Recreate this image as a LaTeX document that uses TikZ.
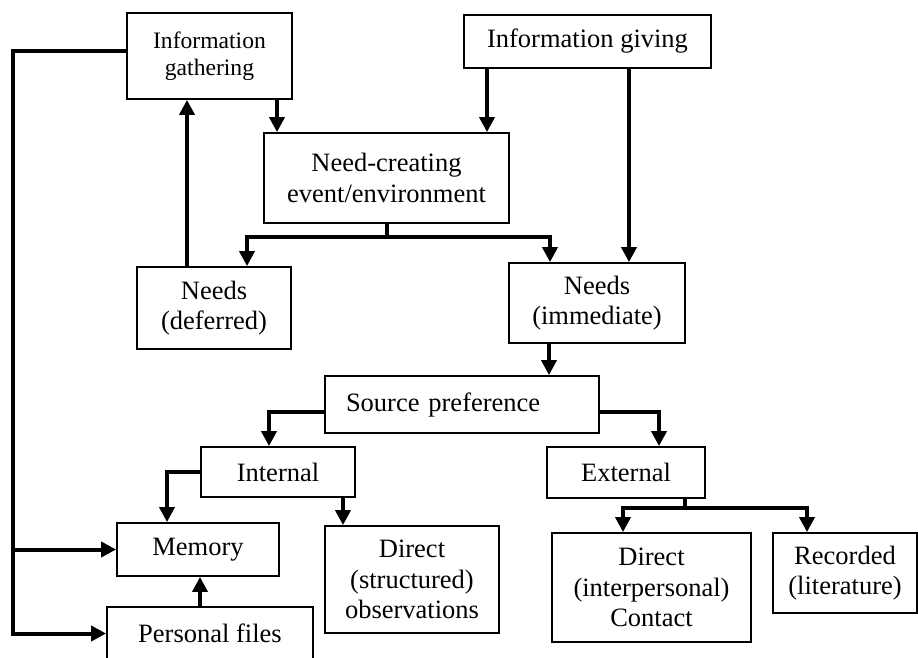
\documentclass[tikz,border=0pt]{standalone}
\usepackage{fontspec}
\setmainfont{Liberation Serif}
\usetikzlibrary{arrows.meta,calc}
\begin{document}
\begin{tikzpicture}[x=1pt,y=-1pt,
  box/.style={draw,line width=1.8pt,align=center,inner sep=2pt,font=\fontsize{26.5}{30.5}\selectfont},
  conn/.style={line width=4pt},
  arr/.style={conn,-{Triangle[width=15pt,length=15pt]}}]
\useasboundingbox (0,0) rectangle (918,657);
% boxes
\node[box,minimum width=165pt,minimum height=86pt,font=\fontsize{23.6}{27}\selectfont] (gath) at (209.5,56) {Information\\gathering};
\node[box,minimum width=247pt,minimum height=53pt] (giv) at (587.5,41.5) {Information giving};
\node[box,minimum width=245pt,minimum height=90pt] (need) at (386.5,178) {Need-creating\\event/environment};
\node[box,minimum width=154pt,minimum height=82pt] (defr) at (214,308) {Needs\\(deferred)};
\node[box,minimum width=176pt,minimum height=80pt] (imm) at (597,303) {Needs\\(immediate)};
\node[box,minimum width=274pt,minimum height=57pt,text width=232pt,align=left,inner xsep=21pt] (src) at (462,404.5) {Source preference};
\node[box,minimum width=154pt,minimum height=50pt] (int) at (278,472) {Internal};
\node[box,minimum width=158pt,minimum height=51pt] (ext) at (626,472.5) {External};
\node[box,minimum width=162pt,minimum height=53pt] (mem) at (198,549.5) {Memory};
\node[box,minimum width=206pt,minimum height=53pt] (pers) at (210,633.5) {Personal files};
\node[box,minimum width=174pt,minimum height=107pt] (dstr) at (412,579.5) {Direct\\(structured)\\observations};
\node[box,minimum width=199pt,minimum height=109pt] (dint) at (651.5,587.5) {Direct\\(interpersonal)\\Contact};
\node[box,minimum width=144pt,minimum height=80pt] (rec) at (845,573) {Recorded\\(literature)};
% column / row helpers
\coordinate (xa) at (277,0);
\coordinate (xb) at (487,0);
\coordinate (xc) at (629,0);
\coordinate (xd) at (247,0);
\coordinate (xe) at (550,0);
\coordinate (xf) at (187,0);
\coordinate (xg) at (549,0);
\coordinate (xh) at (269,0);
\coordinate (xi) at (659,0);
\coordinate (xj) at (167,0);
\coordinate (xk) at (343,0);
\coordinate (xl) at (685,0);
\coordinate (xm) at (623,0);
\coordinate (xn) at (807,0);
\coordinate (xo) at (13,0);
\coordinate (xp) at (200,0);
\coordinate (ys) at (0,412);
\coordinate (yg) at (0,51);
% connectors
\draw[arr] (gath.south -| xa) -- (need.north -| xa);
\draw[arr] (giv.south -| xb) -- (need.north -| xb);
\draw[arr] (giv.south -| xc) -- (imm.north -| xc);
\draw[conn] (need.south) -- ++(0,13) coordinate (nj);
\draw[arr] (nj) -| (defr.north -| xd);
\draw[arr] (nj) -| (imm.north -| xe);
\draw[arr] (defr.north -| xf) -- (gath.south -| xf);
\draw[arr] (imm.south -| xg) -- (src.north -| xg);
\draw[arr] (src.west |- ys) -| (int.north -| xh);
\draw[arr] (src.east |- ys) -| (ext.north -| xi);
\draw[arr] (int.west) -| (mem.north -| xj);
\draw[arr] (int.south -| xk) -- (dstr.north -| xk);
\draw[conn] (ext.south -| xl) -- ++(0,9) coordinate (ej);
\draw[arr] (ej) -| (dint.north -| xm);
\draw[arr] (ej) -| (rec.north -| xn);
\draw[arr] (gath.west |- yg) -| (xo |- pers.west) -- (pers.west);
\draw[arr] (xo |- mem.west) -- (mem.west);
\draw[arr] (pers.north -| xp) -- (mem.south -| xp);
\end{tikzpicture}
\end{document}
